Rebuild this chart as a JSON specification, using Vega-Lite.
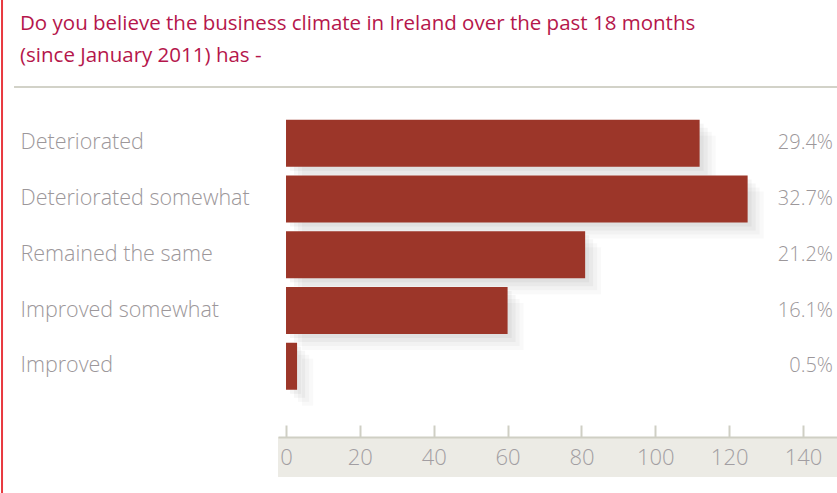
{
  "$schema": "https://vega.github.io/schema/vega-lite/v6.json",
  "autosize": "none",
  "width": 559,
  "height": 350,
  "padding": {"left": 278, "top": 87, "right": 0, "bottom": 56},
  "background": "white",
  "title": {
    "text": ["Do you believe the business climate in Ireland over the past 18 months", "(since January 2011) has -"],
    "anchor": "start",
    "frame": "group",
    "dx": -258,
    "dy": 87,
    "font": "Open Sans",
    "fontSize": 20.5,
    "fontWeight": 400,
    "color": "#b5164b",
    "lineHeight": 32,
    "offset": 20
  },
  "datasets": {
    "survey": [
      {"response": "Deteriorated", "count": 112, "pct": "29.4%"},
      {"response": "Deteriorated somewhat", "count": 125, "pct": "32.7%"},
      {"response": "Remained the same", "count": 81, "pct": "21.2%"},
      {"response": "Improved somewhat", "count": 60, "pct": "16.1%"},
      {"response": "Improved", "count": 3, "pct": "0.5%"}
    ],
    "one": [{}]
  },
  "layer": [
    {
      "data": {"name": "one"},
      "mark": {"type": "rect", "color": "#ecebe5", "y2Offset": 40},
      "encoding": {
        "x": {"value": 0},
        "x2": {"value": "width"},
        "y": {"value": "height"},
        "y2": {"value": "height"}
      }
    },
    {
      "data": {"name": "one"},
      "mark": {"type": "rule", "color": "#d2d2c8", "strokeWidth": 2},
      "encoding": {
        "x": {"datum": -73.65, "type": "quantitative"},
        "x2": {"value": "width"},
        "y": {"value": 0}
      }
    },
    {
      "data": {"name": "one"},
      "mark": {"type": "rule", "color": "#e8393f", "strokeWidth": 2, "yOffset": -87, "y2Offset": 56},
      "encoding": {
        "x": {"datum": -76.9, "type": "quantitative"},
        "y": {"value": 0},
        "y2": {"value": "height"}
      }
    },
    {
      "data": {"name": "survey"},
      "mark": {"type": "bar", "color": "#808080", "opacity": 0.05, "xOffset": 16, "x2Offset": 16, "yOffset": 16},
      "encoding": {
        "y": {"field": "response", "type": "nominal", "sort": null},
        "x": {"field": "count", "type": "quantitative"}
      }
    },
    {
      "data": {"name": "survey"},
      "mark": {"type": "bar", "color": "#808080", "opacity": 0.06, "xOffset": 12, "x2Offset": 12, "yOffset": 12},
      "encoding": {
        "y": {"field": "response", "type": "nominal", "sort": null},
        "x": {"field": "count", "type": "quantitative"}
      }
    },
    {
      "data": {"name": "survey"},
      "mark": {"type": "bar", "color": "#808080", "opacity": 0.07, "xOffset": 8, "x2Offset": 8, "yOffset": 8},
      "encoding": {
        "y": {"field": "response", "type": "nominal", "sort": null},
        "x": {"field": "count", "type": "quantitative"}
      }
    },
    {
      "data": {"name": "survey"},
      "mark": {"type": "bar", "color": "#808080", "opacity": 0.08, "xOffset": 4, "x2Offset": 4, "yOffset": 4},
      "encoding": {
        "y": {"field": "response", "type": "nominal", "sort": null},
        "x": {"field": "count", "type": "quantitative"}
      }
    },
    {
      "data": {"name": "survey"},
      "mark": {"type": "bar", "color": "#9c3629"},
      "encoding": {
        "y": {
          "field": "response",
          "type": "nominal",
          "sort": null,
          "scale": {"paddingInner": 0.157, "paddingOuter": 0.717, "align": 0.41},
          "axis": {
            "title": null,
            "domain": false,
            "ticks": false,
            "labelAlign": "left",
            "labelBaseline": "middle",
            "labelPadding": 258,
            "labelFont": "Open Sans",
            "labelFontSize": 21.5,
            "labelFontWeight": 300,
            "labelColor": "#9c979a",
            "labelLimit": 300
          }
        },
        "x": {
          "field": "count",
          "type": "quantitative",
          "scale": {"domain": [-2.17, 149.2], "nice": false, "zero": false},
          "axis": {
            "title": null,
            "zindex": 1,
            "values": [0, 20, 40, 60, 80, 100, 120, 140],
            "grid": false,
            "domainColor": "#cfcfc4",
            "domainWidth": 2,
            "tickColor": "#cfcfc4",
            "tickWidth": 2,
            "tickSize": -12,
            "labelPadding": 22,
            "labelFont": "Open Sans",
            "labelFontSize": 22,
            "labelFontWeight": 300,
            "labelColor": "#a29ea2"
          }
        }
      }
    },
    {
      "data": {"name": "survey"},
      "mark": {"type": "text", "align": "right", "baseline": "middle", "dx": -4, "font": "Open Sans", "fontSize": 20, "fontWeight": 300, "color": "#9c979a"},
      "encoding": {
        "y": {"field": "response", "type": "nominal", "sort": null},
        "x": {"value": "width"},
        "text": {"field": "pct"}
      }
    }
  ],
  "config": {"view": {"stroke": null}}
}
